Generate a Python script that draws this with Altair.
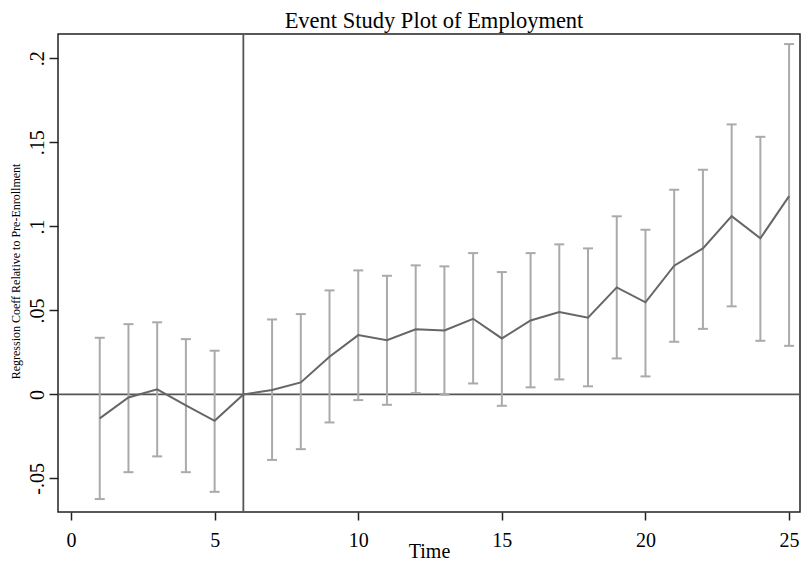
import altair as alt
import pandas as pd

# Data
time = list(range(1, 26))
coef = [-0.0143, -0.0018, 0.0030, -0.0065, -0.0157, 0.0, 0.0026, 0.0071, 0.0224, 0.0353,
        0.0323, 0.0387, 0.0381, 0.0450, 0.0333, 0.0440, 0.0490, 0.0456, 0.0637, 0.0548,
        0.0766, 0.0869, 0.1061, 0.0929, 0.1180]
upper = [0.0337, 0.0418, 0.0429, 0.0329, 0.0260, None, 0.0446, 0.0478, 0.0619, 0.0738,
         0.0706, 0.0768, 0.0762, 0.0841, 0.0728, 0.0841, 0.0893, 0.0869, 0.1060, 0.0980,
         0.1218, 0.1337, 0.1607, 0.1533, 0.2085]
lower = [-0.0623, -0.0463, -0.0369, -0.0463, -0.0580, None, -0.0390, -0.0326, -0.0167, -0.0034,
         -0.0062, 0.0008, -0.0002, 0.0065, -0.0068, 0.0042, 0.0089, 0.0048, 0.0214, 0.0107,
         0.0313, 0.0390, 0.0524, 0.0319, 0.0289]

x_ticks = [0, 5, 10, 15, 20, 25]
y_ticks = [-0.05, 0, 0.05, 0.1, 0.15, 0.2]
event_time = [6]
zero_line = [0]

df = pd.DataFrame({"time": time, "coef": coef, "upper": upper, "lower": lower})
err_df = df.dropna()

FONT = "Liberation Serif"

x_scale = alt.Scale(domain=[-0.453, 25.38], nice=False, zero=False)
y_scale = alt.Scale(domain=[-0.0700, 0.2145], nice=False, zero=False)

x_axis = alt.Axis(values=x_ticks, title="Time", grid=False, domain=False,
                  tickColor="#222", tickWidth=1.5, tickSize=8,
                  labelFont=FONT, labelFontSize=20, labelColor="black", labelPadding=10,
                  titleFont=FONT, titleFontSize=20, titleFontWeight="normal", titleColor="black",
                  titleY=45, titleBaseline="alphabetic")
y_axis = alt.Axis(values=y_ticks, title="Regression Coeff Relative to Pre-Enrollment",
                  grid=False, domain=False,
                  tickColor="#222", tickWidth=1.5, tickSize=9,
                  labelFont=FONT, labelFontSize=20, labelColor="black", labelPadding=6,
                  labelAngle=270, labelAlign="center", labelBaseline="alphabetic",
                  labelExpr="datum.value == 0 ? '0' : (datum.value < 0 ? '-' : '') + replace(format(abs(datum.value), '.2~f'), '0.', '.')",
                  titleFont=FONT, titleFontSize=12, titleFontWeight="normal", titleColor="black",
                  titleAngle=270, titleX=-38.5, titleY=237, titleAlign="center",
                  titleBaseline="alphabetic")

base = alt.Chart(df)

hline = alt.Chart(pd.DataFrame({"y": zero_line})).mark_rule(color="#555", strokeWidth=1.8).encode(
    y=alt.Y("y:Q", scale=y_scale, axis=y_axis))
vline = alt.Chart(pd.DataFrame({"x": event_time})).mark_rule(color="#555", strokeWidth=1.8).encode(
    x=alt.X("x:Q", scale=x_scale, axis=x_axis))

err = alt.Chart(err_df).mark_rule(color="#aaa", strokeWidth=2).encode(
    x=alt.X("time:Q", scale=x_scale, axis=x_axis),
    y=alt.Y("lower:Q", scale=y_scale, axis=y_axis),
    y2="upper:Q")
cap_top = alt.Chart(err_df).mark_tick(color="#aaa", orient="horizontal", size=10, thickness=2, opacity=1).encode(
    x=alt.X("time:Q", scale=x_scale, axis=x_axis),
    y=alt.Y("upper:Q", scale=y_scale, axis=y_axis))
cap_bot = alt.Chart(err_df).mark_tick(color="#aaa", orient="horizontal", size=10, thickness=2, opacity=1).encode(
    x=alt.X("time:Q", scale=x_scale, axis=x_axis),
    y=alt.Y("lower:Q", scale=y_scale, axis=y_axis))

line = base.mark_line(color="#666", strokeWidth=2).encode(
    x=alt.X("time:Q", scale=x_scale, axis=x_axis),
    y=alt.Y("coef:Q", scale=y_scale, axis=y_axis))

chart = alt.layer(hline, vline, err, cap_top, cap_bot, line).properties(
    width=742, height=478,
    autosize="none",
    background="white",
    padding={"left": 50, "top": 26, "right": 1, "bottom": 51},
    title=alt.TitleParams("Event Study Plot of Employment", font=FONT, fontSize=22.5,
                          fontWeight="normal", anchor="middle", color="black", offset=1, dx=5),
).configure_view(stroke="#222", strokeWidth=1.5)

chart.save("out.html", embed_options={"renderer": "svg", "actions": False})
